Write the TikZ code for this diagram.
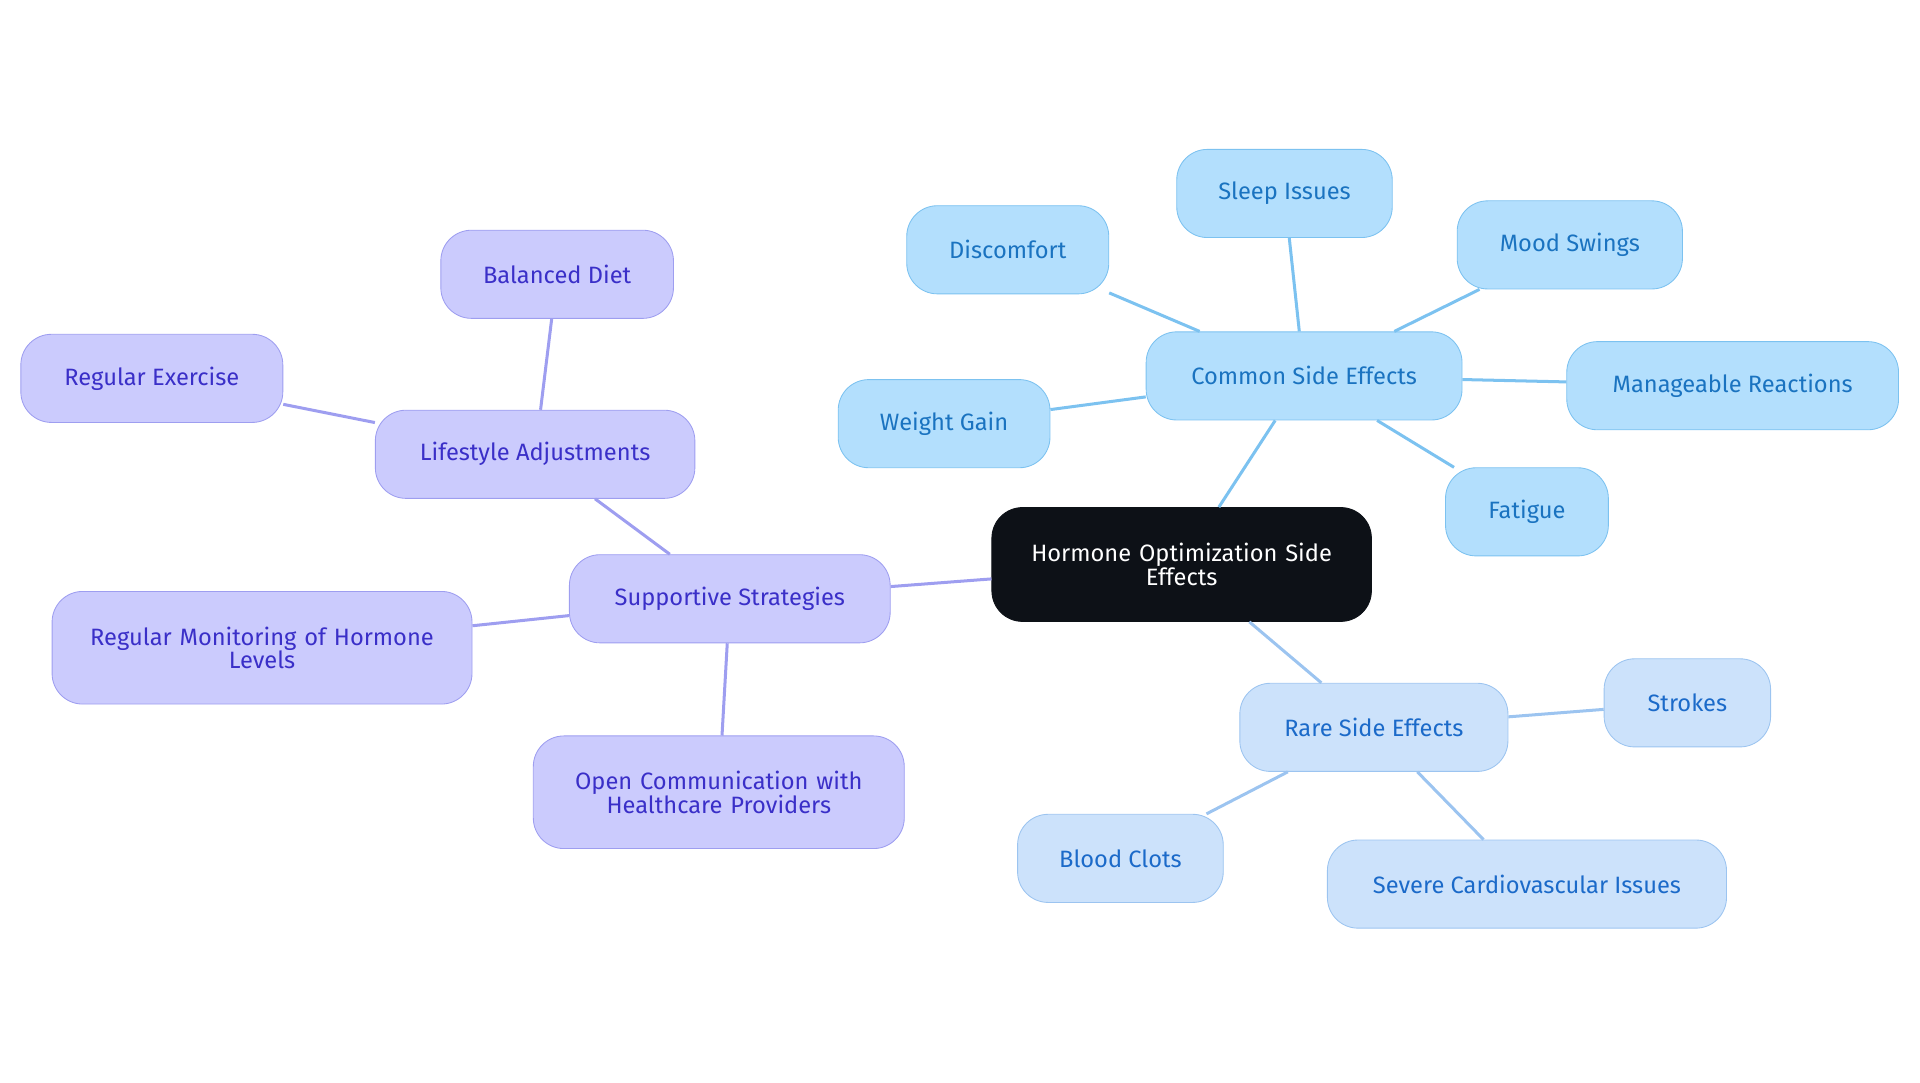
\documentclass[tikz,border=0pt]{standalone}
\usepackage{fontspec}
\setmainfont{Fira Sans}
\usetikzlibrary{positioning}
\definecolor{rootfill}{HTML}{0D1117}
\definecolor{cfill}{HTML}{B3DFFD}
\definecolor{cdraw}{HTML}{7CC2F0}
\definecolor{ctext}{HTML}{1A73C0}
\definecolor{rfill}{HTML}{CCE2FB}
\definecolor{rdraw}{HTML}{9CC4F0}
\definecolor{rtext}{HTML}{1B6AC9}
\definecolor{pfill}{HTML}{CBCBFD}
\definecolor{pdraw}{HTML}{9E9EF0}
\definecolor{ptext}{HTML}{3A2FC8}
\tikzstyle{topic} = [rectangle, rounded corners=0.5cm, minimum height=1.44cm, align=center, font=\fontsize{11}{11}\selectfont]
\tikzstyle{common} = [topic, fill=cfill, draw=cdraw, text=ctext]
\tikzstyle{rare} = [topic, fill=rfill, draw=rdraw, text=rtext]
\tikzstyle{support} = [topic, fill=pfill, draw=pdraw, text=ptext]
\tikzstyle{cline} = [draw=cdraw, line width=1.4pt]
\tikzstyle{rline} = [draw=rdraw, line width=1.4pt]
\tikzstyle{pline} = [draw=pdraw, line width=1.4pt]

\begin{document}
\begin{tikzpicture}[x=0.02cm, y=-0.02cm]
\useasboundingbox (0,0) rectangle (1568,884);

            \node (root) [topic, fill=rootfill, draw=rootfill, text=white, minimum width=6.2cm, minimum height=1.86cm, text width=5.6cm] at (965,461) {Hormone Optimization Side\\Effects};

            \node (common) [common, minimum width=5.16cm] at (1065,307) {Common Side Effects};
            \node (discomfort) [common, minimum width=3.3cm] at (823,204) {Discomfort};
            \node (sleep) [common, minimum width=3.52cm] at (1049,158) {Sleep Issues};
            \node (mood) [common, minimum width=3.68cm] at (1282,200) {Mood Swings};
            \node (manage) [common, minimum width=5.42cm] at (1415,315) {Manageable Reactions};
            \node (fatigue) [common, minimum width=2.66cm] at (1247,418) {Fatigue};
            \node (weight) [common, minimum width=3.46cm] at (771,346) {Weight Gain};

            \node (rare) [rare, minimum width=4.38cm] at (1122,594) {Rare Side Effects};
            \node (strokes) [rare, minimum width=2.72cm] at (1378,574) {Strokes};
            \node (cardio) [rare, minimum width=6.52cm] at (1247,722) {Severe Cardiovascular Issues};
            \node (clots) [rare, minimum width=3.36cm] at (915,701) {Blood Clots};

            \node (support) [support, minimum width=5.24cm] at (596,489) {Supportive Strategies};
            \node (lifestyle) [support, minimum width=5.22cm] at (437,371) {Lifestyle Adjustments};
            \node (diet) [support, minimum width=3.8cm] at (455,224) {Balanced Diet};
            \node (exercise) [support, minimum width=4.28cm] at (124,309) {Regular Exercise};
            \node (monitor) [support, minimum width=6.86cm, minimum height=1.84cm, text width=6.2cm] at (214,529) {Regular Monitoring of Hormone\\Levels};
            \node (talk) [support, minimum width=6.06cm, minimum height=1.84cm, text width=5.6cm] at (587,647) {Open Communication with\\Healthcare Providers};

            \draw [cline] (root) -- (common);
            \draw [cline] (common) -- (discomfort);
            \draw [cline] (common) -- (sleep);
            \draw [cline] (common) -- (mood);
            \draw [cline] (common) -- (manage);
            \draw [cline] (common) -- (fatigue);
            \draw [cline] (common) -- (weight);
            \draw [rline] (root) -- (rare);
            \draw [rline] (rare) -- (strokes);
            \draw [rline] (rare) -- (cardio);
            \draw [rline] (rare) -- (clots);
            \draw [pline] (root) -- (support);
            \draw [pline] (support) -- (lifestyle);
            \draw [pline] (lifestyle) -- (diet);
            \draw [pline] (lifestyle) -- (exercise);
            \draw [pline] (support) -- (monitor);
            \draw [pline] (support) -- (talk);

        \end{tikzpicture}
\end{document}
